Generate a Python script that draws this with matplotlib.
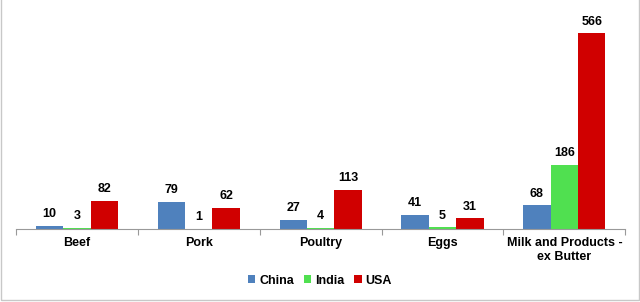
import numpy as np
import matplotlib.pyplot as plt

plt.rcParams['font.family'] = ['Liberation Sans', 'DejaVu Sans']

# *
# Data
# *
categories = ["Beef", "Pork", "Poultry", "Eggs", "Milk and Products -\nex Butter"]
china = [10, 79, 27, 41, 68]
india = [3, 1, 4, 5, 186]
usa   = [82, 62, 113, 31, 566]

series = [("China", china, "#4F81BD"),
          ("India", india, "#50E050"),
          ("USA", usa, "#D00000")]

# *
# Plot
# *
fig = plt.figure(figsize=(6.4, 3.02), dpi=100)
ax = fig.add_axes([0.025, 0.2417, 0.952, 0.725])

x = np.arange(len(categories))
w = 0.225
for i, (name, vals, col) in enumerate(series):
    pos = x + (i - 1) * w
    bars = ax.bar(pos, vals, width=w, color=col, label=name)
    for b, v in zip(bars, vals):
        ax.annotate(str(v), (b.get_x() + b.get_width() / 2, v),
                    xytext=(0, 4), textcoords="offset points",
                    ha="center", va="bottom", fontsize=9, fontweight="bold")

ax.set_xlim(-0.5, len(categories) - 0.5)
ax.set_ylim(0, 633)
ax.set_yticks([])
for s in ["top", "right", "left"]:
    ax.spines[s].set_visible(False)
ax.spines["bottom"].set_color("#999999")

ax.set_xticks(np.arange(-0.5, len(categories)), minor=False)
ax.set_xticklabels([])
ax.tick_params(axis="x", which="major", length=4, color="#999999")
ax.set_xticks(x, minor=True)
ax.set_xticklabels(categories, minor=True, fontsize=9, fontweight="bold")
ax.tick_params(axis="x", which="minor", length=0, pad=6)

leg = fig.legend(loc="center", bbox_to_anchor=(0.5, 0.07), ncol=3, frameon=False,
                 handlelength=0.6, handleheight=0.6, handletextpad=0.3,
                 columnspacing=0.8, prop={"weight": "bold", "size": 9})

fig.patches.append(plt.Rectangle((0.002, 0.005), 0.996, 1.2, transform=fig.transFigure,
                                 fill=False, edgecolor="#C8C8C8", linewidth=1))

plt.savefig("out.png", dpi=100)
